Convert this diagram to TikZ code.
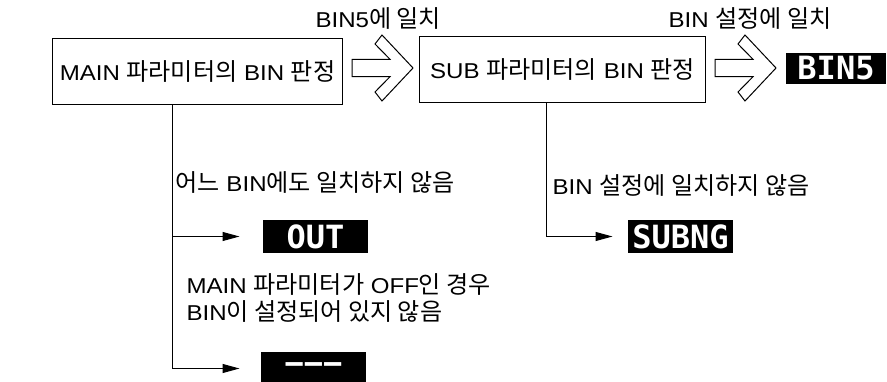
\documentclass[tikz,border=0pt]{standalone}
\usepackage{fontspec}
\setmainfont{Liberation Sans}[FakeStretch=1.12]
\setmonofont{DejaVu Sans Mono}
\newfontfamily\krfont{Noto Sans CJK KR}[Scale=1.12]
\newcommand\ko[1]{{\krfont #1}}
\usetikzlibrary{arrows.meta}

\begin{document}
\begin{tikzpicture}[x=1pt,y=-1pt,line width=1pt,
    every node/.style={font=\fontsize{21.5}{28}\selectfont},
    judge/.style={draw,minimum width=290pt,minimum height=66pt,inner sep=2pt,anchor=north west},
    lcd/.style={fill=black,text=white,minimum width=105pt,minimum height=33pt,inner sep=0pt,
        font=\fontsize{32}{32}\selectfont\ttfamily\bfseries},
    note/.style={anchor=base west,inner sep=0pt},
    fork/.style={-{Triangle[length=17pt,width=9pt]}},
    hollow arrow/.pic={\draw (0,-8.7) -- (38,-8.7) -- (23,-24) -- (30,-33) -- (61,0)
        -- (30,33) -- (23,24) -- (38,8.7) -- (0,8.7) -- cycle;}]
    \useasboundingbox (0,0) rectangle (887,382);

    % judgement boxes
    \node[judge] (main) at (52,38) {MAIN \ko{파라미터의} BIN \ko{판정}};
    \node[judge,minimum width=286pt] (sub) at (419,36) {SUB \ko{파라미터의} BIN \ko{판정}};
    \pic at (352,68) {hollow arrow};
    \pic at (715,68) {hollow arrow};
    \node[note] (hit5) at (315,28) {BIN5\ko{에 일치}};
    \node[note] (hitset) at (668,28) {BIN \ko{설정에 일치}};

    % display results
    \node[lcd,minimum width=100pt,minimum height=31pt] (bin5) at (836,68.5) {BIN5};
    \node[lcd] (out) at (315.5,236.5) {OUT};
    \node[lcd] (subng) at (680.5,236.5) {SUBNG};
    \node[lcd] (none) at (313.5,368.5) {−−−};

    % branches
    \coordinate (mainfork) at ([xshift=120pt]main.south west);
    \coordinate (subfork) at ([xshift=127pt]sub.south west);
    \draw[fork] (mainfork) |- ([xshift=-23pt]out.west);
    \draw[fork] (mainfork) |- ([xshift=-21pt]none.west);
    \draw[fork] (subfork) |- ([xshift=-15pt]subng.west);
    \node[note] (nomatch) at (175,192) {\ko{어느} BIN\ko{에도 일치하지 않음}};
    \node[note,align=left] (offcase) at (186,321)
        {MAIN \ko{파라미터가} OFF\ko{인 경우}\\BIN\ko{이 설정되어 있지 않음}};
    \node[note] (subnomatch) at (552,195) {BIN \ko{설정에 일치하지 않음}};
\end{tikzpicture}
\end{document}
